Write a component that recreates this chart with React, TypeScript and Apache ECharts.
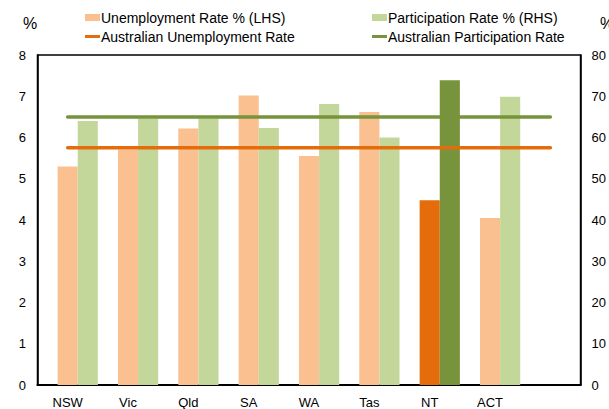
import React, { useEffect, useRef } from "react";
import * as echarts from "echarts";

const categories = ["NSW", "Vic", "Qld", "SA", "WA", "Tas", "NT", "ACT", ""];
const unemployment = [5.3, 5.71, 6.22, 7.02, 5.55, 6.62, 4.48, 4.05];
const participation = [64.0, 64.6, 64.6, 62.3, 68.1, 60.0, 73.9, 69.9];
const ausUnemployment = 5.75;
const ausParticipation = 65.0;
const highlight = "NT";
const leftTicks = { min: 0, max: 8, interval: 1 };
const rightTicks = { min: 0, max: 80, interval: 10 };

const C = {
  uLight: "#FAC090",
  uDark: "#E46C0A",
  pLight: "#C4D79B",
  pDark: "#77933C",
};

const FONT = "'Liberation Sans', Arial, sans-serif";

export default function App() {
  const ref = useRef<HTMLDivElement>(null);
  useEffect(() => {
    if (!ref.current) return;
    const chart = echarts.init(ref.current, null, { renderer: "svg" });
    const uData = unemployment.map((v, i) => ({
      value: v,
      itemStyle: { color: categories[i] === highlight ? C.uDark : C.uLight },
    }));
    const pData = participation.map((v, i) => ({
      value: v,
      itemStyle: { color: categories[i] === highlight ? C.pDark : C.pLight },
    }));
    const textStyle = { fontFamily: FONT, fontSize: 13, color: "#000" };
    const legendText = { fontFamily: FONT, fontSize: 14, color: "#000", padding: [0, 0, 0, -4] };
    const mkLegend = (left: number, top: number, name: string, h: number) => ({
      left,
      top,
      padding: 0,
      itemWidth: 15,
      itemHeight: h,
      textStyle: legendText,
      icon: "rect",
      data: [name],
    });
    chart.setOption({
      animation: false,
      textStyle: { fontFamily: FONT },
      grid: {
        left: 37.5,
        right: 23.3,
        top: 55,
        bottom: 24,
        show: true,
        borderColor: "#000",
        borderWidth: 1.5,
        containLabel: false,
      },
      legend: [
        mkLegend(85, 10.5, "Unemployment Rate % (LHS)", 7),
        mkLegend(372, 10.5, "Participation Rate % (RHS)", 7),
        mkLegend(85, 29.5, "Australian Unemployment Rate", 3),
        mkLegend(372, 29.5, "Australian Participation Rate", 3),
      ],
      graphic: [
        {
          type: "text",
          x: 23,
          y: 15,
          style: { text: "%", font: `16px ${FONT}`, fill: "#000" },
        },
        {
          type: "text",
          x: 600,
          y: 15,
          style: { text: "%", font: `16px ${FONT}`, fill: "#000" },
        },
      ],
      xAxis: {
        type: "category",
        data: categories,
        axisLine: { show: true, lineStyle: { color: "#000", width: 2 } },
        axisTick: { show: false },
        axisLabel: { ...textStyle, margin: 11 },
      },
      yAxis: [
        {
          type: "value",
          ...leftTicks,
          axisLine: { show: true, lineStyle: { color: "#000", width: 1.5 } },
          axisTick: { show: false },
          splitLine: { show: false },
          axisLabel: { ...textStyle, margin: 11.5 },
        },
        {
          type: "value",
          ...rightTicks,
          position: "right",
          axisLine: { show: true, lineStyle: { color: "#000", width: 1.5 } },
          axisTick: { show: false },
          splitLine: { show: false },
          axisLabel: { ...textStyle, margin: 11 },
        },
      ],
      series: [
        {
          name: "spacer",
          type: "bar",
          yAxisIndex: 0,
          data: categories.map(() => null),
          barGap: "0%",
          barCategoryGap: "0%",
          silent: true,
        },
        {
          name: "Unemployment Rate % (LHS)",
          type: "bar",
          yAxisIndex: 0,
          data: uData,
          barGap: "0%",
          barCategoryGap: "0%",
          itemStyle: { color: C.uLight },
        },
        {
          name: "Participation Rate % (RHS)",
          type: "bar",
          yAxisIndex: 1,
          data: pData,
          barGap: "0%",
          barCategoryGap: "0%",
          itemStyle: { color: C.pLight },
        },
        {
          name: "Australian Unemployment Rate",
          type: "line",
          yAxisIndex: 0,
          data: categories.map(() => ausUnemployment),
          symbol: "none",
          lineStyle: { color: C.uDark, width: 3.5, cap: "round" },
          itemStyle: { color: C.uDark },
          z: 5,
        },
        {
          name: "Australian Participation Rate",
          type: "line",
          yAxisIndex: 1,
          data: categories.map(() => ausParticipation),
          symbol: "none",
          lineStyle: { color: C.pDark, width: 3.5, cap: "round" },
          itemStyle: { color: C.pDark },
          z: 5,
        },
      ],
    });
    return () => chart.dispose();
  }, []);
  return <div ref={ref} style={{ width: 609, height: 409, position: "absolute", left: 0, top: 0 }} />;
}
